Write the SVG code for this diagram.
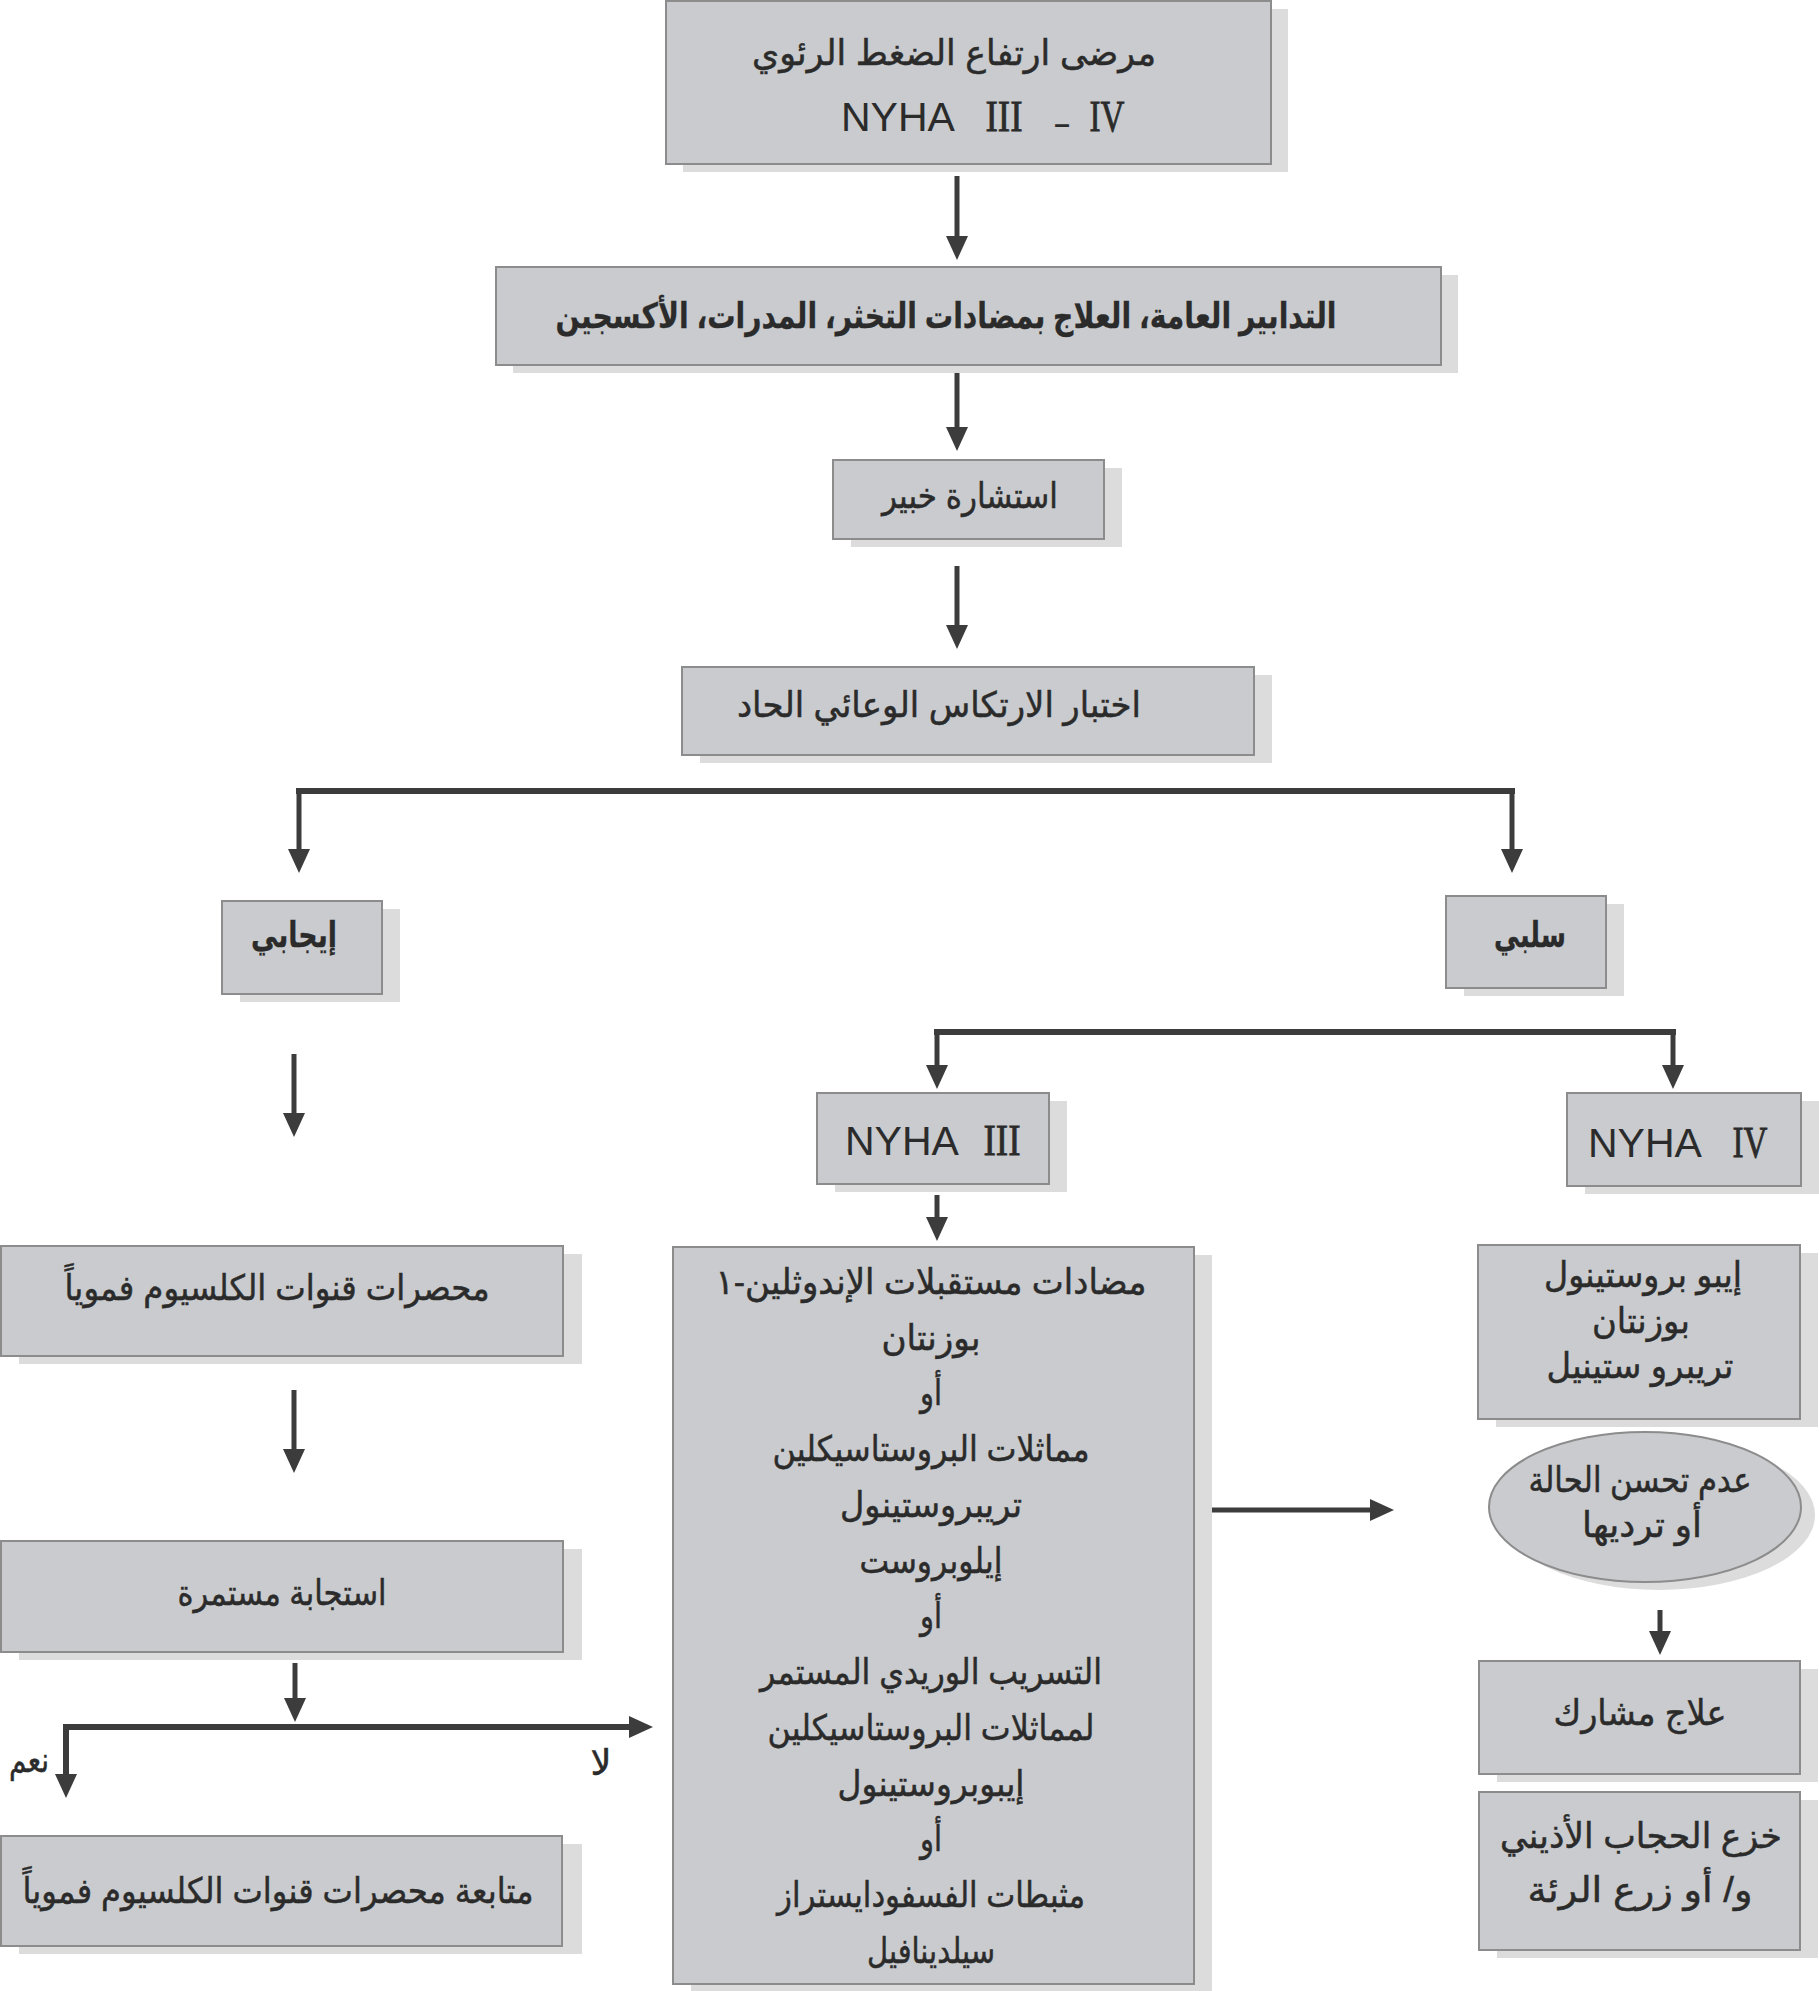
<svg xmlns="http://www.w3.org/2000/svg" width="1819" height="1991" viewBox="0 0 1819 1991">
<defs>
<marker id="ah" markerUnits="userSpaceOnUse" markerWidth="24" markerHeight="22" refX="14" refY="11" orient="auto-start-reverse">
<path d="M0,0 L24,11 L0,22 Z" fill="#3c3c3c"/>
</marker>
</defs>
<style>
.box{fill:#c9cbce;stroke:#8c8c8c;stroke-width:2}
.sh{fill:#dcdcdc}
.ar{font-family:'Liberation Sans','DejaVu Sans',sans-serif;font-size:35px;fill:#2b2b2b;stroke:#2b2b2b;stroke-width:0.5;text-anchor:middle;direction:rtl}
.b{font-weight:bold;stroke-width:0.3}
.lat{font-family:'Liberation Sans',sans-serif;font-size:41px;fill:#2b2b2b}
.rn{font-family:'Liberation Serif',serif;font-size:44px;fill:#2b2b2b;stroke:#2b2b2b;stroke-width:0.8;text-anchor:middle}
.ln{fill:none;stroke:#3c3c3c;stroke-width:5}
.th{stroke-width:6}
.arw{marker-end:url(#ah)}
</style>
<rect width="1819" height="1991" fill="#ffffff"/>

<g id="connectors">
<path class="ln arw" d="M957,176 V250"/>
<path class="ln arw" d="M957,371 V441"/>
<path class="ln arw" d="M957,566 V639"/>
<path class="ln th" d="M296,791 H1515"/>
<path class="ln arw" d="M299,791 V863"/>
<path class="ln arw" d="M1512,791 V863"/>
<path class="ln arw" d="M294,1054 V1127"/>
<path class="ln th" d="M934,1032 H1676"/>
<path class="ln arw" d="M937,1032 V1079"/>
<path class="ln arw" d="M1673,1032 V1079"/>
<path class="ln arw" d="M937,1195 V1231"/>
<path class="ln arw" d="M294,1390 V1463"/>
<path class="ln arw" d="M295,1663 V1712"/>
<path class="ln th" d="M66,1788 V1727 H643" marker-start="url(#ah)" marker-end="url(#ah)"/>
<path class="ln arw" d="M1200,1510 H1384"/>
<path class="ln arw" d="M1660,1610 V1645"/>
<text class="ar" x="29" y="1772" textLength="40" lengthAdjust="spacingAndGlyphs">نعم</text>
<text class="ar" x="601" y="1775" textLength="21" lengthAdjust="spacingAndGlyphs">لا</text>
</g>

<g id="n1">
<rect class="sh" x="683" y="9" width="605" height="163"/>
<rect class="box" x="666" y="1" width="605" height="163"/>
<text class="ar" x="954" y="65" textLength="404" lengthAdjust="spacingAndGlyphs">مرضى ارتفاع الضغط الرئوي</text>
<text class="lat" x="841" y="131">NYHA</text>
<text class="rn" x="1004" y="131" textLength="37" lengthAdjust="spacingAndGlyphs">III</text>
<text class="lat b" x="1062" y="133" style="font-size:28px;text-anchor:middle">–</text>
<text class="rn" x="1107" y="131" textLength="35" lengthAdjust="spacingAndGlyphs">IV</text>
</g>

<g id="n2">
<rect class="sh" x="513" y="275" width="945" height="98"/>
<rect class="box" x="496" y="267" width="945" height="98"/>
<text class="ar b" x="946" y="328" textLength="781" lengthAdjust="spacingAndGlyphs">التدابير العامة، العلاج بمضادات التخثر، المدرات، الأكسجين</text>
</g>

<g id="n3">
<rect class="sh" x="851" y="468" width="271" height="79"/>
<rect class="box" x="833" y="460" width="271" height="79"/>
<text class="ar" x="970" y="508" textLength="176" lengthAdjust="spacingAndGlyphs">استشارة خبير</text>
</g>

<g id="n4">
<rect class="sh" x="700" y="675" width="572" height="88"/>
<rect class="box" x="682" y="667" width="572" height="88"/>
<text class="ar" x="939" y="717" textLength="404" lengthAdjust="spacingAndGlyphs">اختبار الارتكاس الوعائي الحاد</text>
</g>

<g id="n5">
<rect class="sh" x="240" y="909" width="160" height="93"/>
<rect class="box" x="222" y="901" width="160" height="93"/>
<text class="ar b" x="294" y="947" textLength="86" lengthAdjust="spacingAndGlyphs">إيجابي</text>
</g>

<g id="n6">
<rect class="sh" x="1464" y="904" width="160" height="92"/>
<rect class="box" x="1446" y="896" width="160" height="92"/>
<text class="ar b" x="1530" y="947" textLength="72" lengthAdjust="spacingAndGlyphs">سلبي</text>
</g>

<g id="n7">
<rect class="sh" x="835" y="1101" width="232" height="91"/>
<rect class="box" x="817" y="1093" width="232" height="91"/>
<text class="lat" x="845" y="1155">NYHA</text>
<text class="rn" x="1002" y="1155" textLength="37" lengthAdjust="spacingAndGlyphs">III</text>
</g>

<g id="n8">
<rect class="sh" x="1585" y="1101" width="234" height="93"/>
<rect class="box" x="1567" y="1093" width="234" height="93"/>
<text class="lat" x="1588" y="1157">NYHA</text>
<text class="rn" x="1750" y="1157" textLength="35" lengthAdjust="spacingAndGlyphs">IV</text>
</g>

<g id="n9">
<rect class="sh" x="691" y="1255" width="521" height="737"/>
<rect class="box" x="673" y="1247" width="521" height="737"/>
<text class="ar" x="931" y="1294" textLength="431" lengthAdjust="spacingAndGlyphs">مضادات مستقبلات الإندوثلين-١</text>
<text class="ar" x="931" y="1350" textLength="99" lengthAdjust="spacingAndGlyphs">بوزنتان</text>
<text class="ar" x="931" y="1405" textLength="22" lengthAdjust="spacingAndGlyphs">أو</text>
<text class="ar" x="931" y="1461" textLength="317" lengthAdjust="spacingAndGlyphs">مماثلات البروستاسيكلين</text>
<text class="ar" x="931" y="1517" textLength="182" lengthAdjust="spacingAndGlyphs">تريبروستينول</text>
<text class="ar" x="931" y="1573" textLength="143" lengthAdjust="spacingAndGlyphs">إيلوبروست</text>
<text class="ar" x="931" y="1628" textLength="22" lengthAdjust="spacingAndGlyphs">أو</text>
<text class="ar" x="931" y="1684" textLength="342" lengthAdjust="spacingAndGlyphs">التسريب الوريدي المستمر</text>
<text class="ar" x="931" y="1740" textLength="327" lengthAdjust="spacingAndGlyphs">لمماثلات البروستاسيكلين</text>
<text class="ar" x="931" y="1796" textLength="187" lengthAdjust="spacingAndGlyphs">إيبوبروستينول</text>
<text class="ar" x="931" y="1851" textLength="22" lengthAdjust="spacingAndGlyphs">أو</text>
<text class="ar" x="931" y="1907" textLength="308" lengthAdjust="spacingAndGlyphs">مثبطات الفسفودايستراز</text>
<text class="ar" x="931" y="1963" textLength="128" lengthAdjust="spacingAndGlyphs">سيلدينافيل</text>
</g>

<g id="n10">
<rect class="sh" x="1496" y="1253" width="322" height="174"/>
<rect class="box" x="1478" y="1245" width="322" height="174"/>
<text class="ar" x="1643" y="1287" textLength="198" lengthAdjust="spacingAndGlyphs">إيبو بروستينول</text>
<text class="ar" x="1641" y="1333" textLength="98" lengthAdjust="spacingAndGlyphs">بوزنتان</text>
<text class="ar" x="1640" y="1378" textLength="187" lengthAdjust="spacingAndGlyphs">تريبرو ستينيل</text>
</g>

<g id="n11">
<ellipse class="sh" cx="1659" cy="1515" rx="156" ry="75"/>
<ellipse class="box" cx="1645" cy="1507" rx="156" ry="75"/>
<text class="ar" x="1640" y="1492" textLength="223" lengthAdjust="spacingAndGlyphs">عدم تحسن الحالة</text>
<text class="ar" x="1642" y="1537" textLength="120" lengthAdjust="spacingAndGlyphs">أو ترديها</text>
</g>

<g id="n12">
<rect class="sh" x="1497" y="1669" width="321" height="113"/>
<rect class="box" x="1479" y="1661" width="321" height="113"/>
<text class="ar" x="1640" y="1725" textLength="173" lengthAdjust="spacingAndGlyphs">علاج مشارك</text>
</g>

<g id="n13">
<rect class="sh" x="1497" y="1800" width="321" height="158"/>
<rect class="box" x="1479" y="1792" width="321" height="158"/>
<text class="ar" x="1641" y="1848" textLength="282" lengthAdjust="spacingAndGlyphs">خزع الحجاب الأذيني</text>
<text class="ar" x="1640" y="1902" textLength="225" lengthAdjust="spacingAndGlyphs">و/ أو زرع الرئة</text>
</g>

<g id="n14">
<rect class="sh" x="19" y="1254" width="563" height="110"/>
<rect class="box" x="1" y="1246" width="562" height="110"/>
<text class="ar" x="277" y="1300" textLength="425" lengthAdjust="spacingAndGlyphs">محصرات قنوات الكلسيوم فموياً</text>
</g>

<g id="n15">
<rect class="sh" x="19" y="1549" width="563" height="111"/>
<rect class="box" x="1" y="1541" width="562" height="111"/>
<text class="ar" x="282" y="1605" textLength="209" lengthAdjust="spacingAndGlyphs">استجابة مستمرة</text>
</g>

<g id="n16">
<rect class="sh" x="19" y="1844" width="563" height="110"/>
<rect class="box" x="1" y="1836" width="561" height="110"/>
<text class="ar" x="278" y="1903" textLength="511" lengthAdjust="spacingAndGlyphs">متابعة محصرات قنوات الكلسيوم فموياً</text>
</g>
</svg>
